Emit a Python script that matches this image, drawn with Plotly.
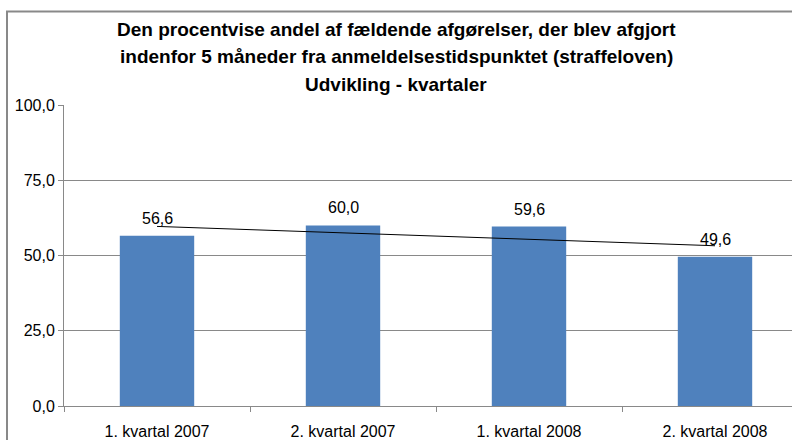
import numpy as np
import plotly.graph_objects as go

categories = ["1. kvartal 2007", "2. kvartal 2007", "1. kvartal 2008", "2. kvartal 2008"]
values = [56.6, 60.0, 59.6, 49.6]
title_lines = [
    "Den procentvise andel af fældende afgørelser, der blev afgjort",
    "indenfor 5 måneder fra anmeldelsestidspunktet (straffeloven)",
    "Udvikling - kvartaler",
]
y_ticks = [0, 25, 50, 75, 100]

W, H = 792, 440
ML, MR, MT, MB = 64, 0, 105, 32
plot_h = H - MT - MB
plot_w = W - ML - MR

def py(px):  # pixel y -> paper y
    return (H - MB - px) / plot_h

def pxx(px):  # pixel x -> paper x
    return (px - ML) / plot_w

FONT = "Arial, Liberation Sans, sans-serif"
GRAY = "#898989"

# linear trendline (Excel style) fitted on the series
idx = np.arange(1, len(values) + 1)
slope, intercept = np.polyfit(idx, values, 1)
trend = slope * idx + intercept

fig = go.Figure()
fig.add_trace(go.Bar(
    x=categories, y=values, marker=dict(color="#4F81BD", line=dict(width=0)),
    width=0.4, showlegend=False, hoverinfo="skip",
))
fig.add_trace(go.Scatter(
    x=categories, y=trend, mode="lines", line=dict(color="black", width=1),
    showlegend=False, hoverinfo="skip",
))

annotations = []
for c, v in zip(categories, values):
    annotations.append(dict(
        x=c, y=v, xref="x", yref="y", text=f"{v:.1f}".replace(".", ","),
        showarrow=False, yanchor="bottom", yshift=7,
        font=dict(family=FONT, size=16, color="black"),
    ))
title_y_px = [29, 56, 84]
for t, ypx in zip(title_lines, title_y_px):
    annotations.append(dict(
        x=pxx(W / 2), y=py(ypx), xref="paper", yref="paper", text=f"<b>{t}</b>",
        showarrow=False, xanchor="center", yanchor="middle",
        font=dict(family=FONT, size=19, color="black"),
    ))

fig.update_layout(
    width=W, height=H,
    margin=dict(l=ML, r=MR, t=MT, b=MB),
    paper_bgcolor="white", plot_bgcolor="white",
    separators=",.",
    font=dict(family=FONT, size=16, color="black"),
    annotations=annotations,
    shapes=[dict(
        type="rect", xref="paper", yref="paper",
        x0=pxx(7), x1=pxx(W + 20), y0=py(11), y1=py(H + 20),
        line=dict(color=GRAY, width=2), layer="below",
    )],
    bargap=0.6,
)
fig.update_xaxes(
    type="category", range=[-0.5, -0.5 + plot_w / 186.0],
    showgrid=False, showline=True, linecolor=GRAY, linewidth=1,
    ticks="outside", tickson="boundaries", ticklen=5, tickcolor=GRAY,
    ticklabelstandoff=11, tickfont=dict(size=16, color="black"),
)
fig.update_yaxes(
    range=[0, 100], tickvals=y_ticks, tickformat=".1f",
    showgrid=True, gridcolor=GRAY, gridwidth=1,
    showline=True, linecolor=GRAY, linewidth=1,
    ticks="outside", ticklen=5, tickcolor=GRAY,
    tickfont=dict(size=16, color="black"), zeroline=False,
)

fig.write_html(
    "out.html",
    config={"displayModeBar": False, "staticPlot": True},
    post_script="document.body.style.margin='0';document.body.style.overflow='hidden';",
)
